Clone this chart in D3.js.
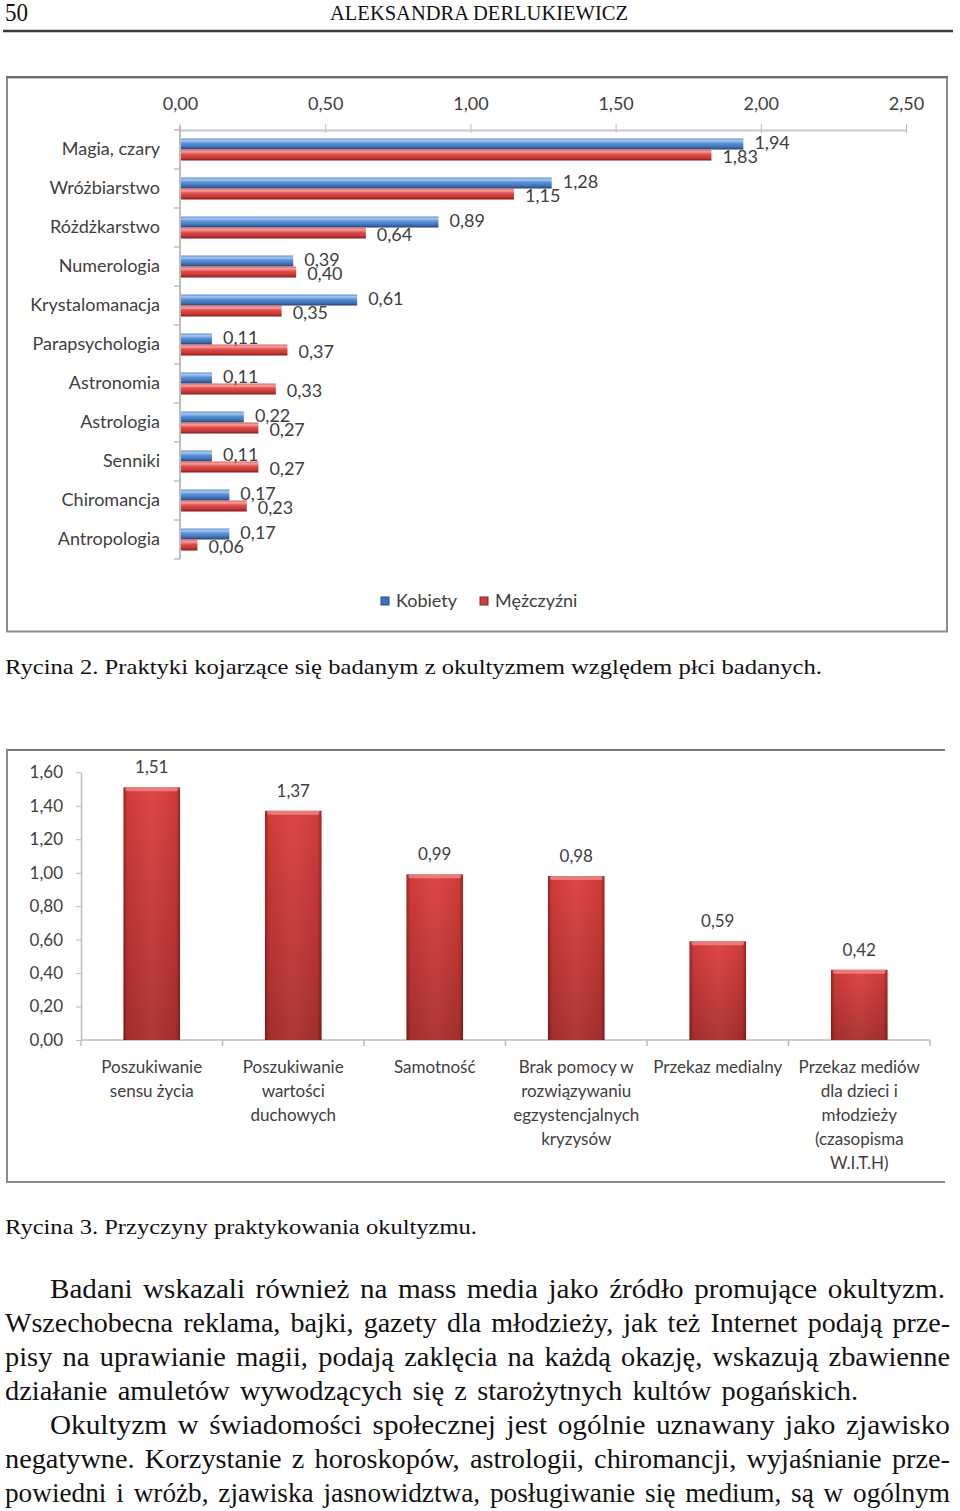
<!DOCTYPE html>
<html><head><meta charset="utf-8">
<script src="https://cdn.jsdelivr.net/npm/d3@7"></script>
<style>
html,body{margin:0;padding:0;background:#fff;}
svg{display:block;}
</style></head>
<body>
<svg id="page" width="960" height="1511"></svg>
<script>
// ---------- DATA ----------
const categories1 = ["Magia, czary","Wróżbiarstwo","Różdżkarstwo","Numerologia","Krystalomanacja","Parapsychologia","Astronomia","Astrologia","Senniki","Chiromancja","Antropologia"];
const kobiety   = [1.94,1.28,0.89,0.39,0.61,0.11,0.11,0.22,0.11,0.17,0.17];
const mezczyzni = [1.83,1.15,0.64,0.40,0.35,0.37,0.33,0.27,0.27,0.23,0.06];
const seriesNames1 = ["Kobiety","Mężczyźni"];
const xTicks1 = [0,0.5,1,1.5,2,2.5];

const categories2 = [
  ["Poszukiwanie","sensu życia"],
  ["Poszukiwanie","wartości","duchowych"],
  ["Samotność"],
  ["Brak pomocy w","rozwiązywaniu","egzystencjalnych","kryzysów"],
  ["Przekaz medialny"],
  ["Przekaz mediów","dla dzieci i","młodzieży","(czasopisma","W.I.T.H)"]
];
const values2 = [1.51,1.37,0.99,0.98,0.59,0.42];
const yTicks2 = [0,0.2,0.4,0.6,0.8,1.0,1.2,1.4,1.6];

const headerPage = "50";
const headerAuthor = "ALEKSANDRA DERLUKIEWICZ";
const caption1 = "Rycina 2. Praktyki kojarzące się badanym z okultyzmem względem płci badanych.";
const caption2 = "Rycina 3. Przyczyny praktykowania okultyzmu.";
const bodyLines = [
  "Badani wskazali również na mass media jako źródło promujące okultyzm.",
  "Wszechobecna reklama, bajki, gazety dla młodzieży, jak też Internet podają prze-",
  "pisy na uprawianie magii, podają zaklęcia na każdą okazję, wskazują zbawienne",
  "działanie amuletów wywodzących się z starożytnych kultów pogańskich.",
  "Okultyzm w świadomości społecznej jest ogólnie uznawany jako zjawisko",
  "negatywne. Korzystanie z horoskopów, astrologii, chiromancji, wyjaśnianie prze-",
  "powiedni i wróżb, zjawiska jasnowidztwa, posługiwanie się medium, są w ogólnym"
];

// ---------- HELPERS ----------
const fmt = d => d.toFixed(2).replace(".", ",");
const svg = d3.select("#page");
const serif = "Liberation Serif";
const sans = "Lato";
const defs = svg.append("defs");

function vGrad(id, stops){
  const g = defs.append("linearGradient").attr("id", id).attr("x1",0).attr("y1",0).attr("x2",0).attr("y2",1);
  stops.forEach(s => g.append("stop").attr("offset", s[0]).attr("stop-color", s[1]).attr("stop-opacity", s[2] === undefined ? 1 : s[2]));
}
function hGrad(id, stops){
  const g = defs.append("linearGradient").attr("id", id).attr("x1",0).attr("y1",0).attr("x2",1).attr("y2",0);
  stops.forEach(s => g.append("stop").attr("offset", s[0]).attr("stop-color", s[1]).attr("stop-opacity", s[2] === undefined ? 1 : s[2]));
}
vGrad("gBlue", [[0,"#5d8fd0"],[0.2,"#a6c8f2"],[0.45,"#5b8fd4"],[0.8,"#3c6db0"],[1,"#1f3f70"]]);
vGrad("gRed",  [[0,"#d9625f"],[0.2,"#f4a09e"],[0.45,"#dc4f4c"],[0.8,"#c23431"],[1,"#7d1a18"]]);
hGrad("gRed2", [[0,"#9c2422"],[0.07,"#cf3b39"],[0.5,"#dd4846"],[0.93,"#cf3b39"],[1,"#9c2422"]]);
vGrad("gShade2", [[0,"#000",0],[1,"#000",0.22]]);

// ---------- HEADER ----------
svg.append("text").attr("x",5).attr("y",21).attr("font-family",serif).attr("font-size",25).attr("fill","#111")
  .attr("textLength",23).attr("lengthAdjust","spacingAndGlyphs").text(headerPage);
svg.append("text").attr("x",330).attr("y",20).attr("font-family",serif).attr("font-size",21).attr("fill","#111")
  .attr("textLength",298).attr("lengthAdjust","spacingAndGlyphs").text(headerAuthor);
svg.append("line").attr("x1",3).attr("x2",953).attr("y1",31).attr("y2",31).attr("stroke","#3a3a3a").attr("stroke-width",2.5);

// ---------- CHART 1 ----------
const c1 = svg.append("g");
c1.append("rect").attr("x",7).attr("y",77.5).attr("width",940).attr("height",554)
  .attr("fill","#fff").attr("stroke","#8c8c8c").attr("stroke-width",2);
c1.append("line").attr("x1",6).attr("x2",948).attr("y1",77).attr("y2",77).attr("stroke","#6e6e6e").attr("stroke-width",2);

const x1 = d3.scaleLinear().domain([0,2.5]).range([180,906]);
const y1 = d3.scaleBand().domain(categories1).range([130,559]);
const ySub = d3.scaleBand().domain(seriesNames1).range([0,y1.bandwidth()]).paddingInner(0).paddingOuter(0.773);

const axTop = c1.append("g").attr("transform","translate(0,130)")
  .call(d3.axisTop(x1).tickValues(xTicks1).tickFormat(fmt).tickSize(6).tickSizeOuter(0).tickPadding(14));
axTop.select(".domain").attr("stroke","#c8c8c8").attr("stroke-width",2);
axTop.selectAll(".tick line").attr("stroke","#bdbdbd").attr("y2",-6).attr("y1",3);
axTop.selectAll(".tick text").attr("font-family",sans).attr("font-size",18).attr("fill","#404040");

const axLeft = c1.append("g").attr("transform","translate(180,0)")
  .call(d3.axisLeft(y1).tickSize(0).tickPadding(20));
axLeft.select(".domain").remove();
axLeft.selectAll(".tick text").attr("font-family",sans).attr("font-size",18).attr("fill","#404040");
c1.append("line").attr("x1",180).attr("x2",180).attr("y1",126).attr("y2",559).attr("stroke","#bdbdbd").attr("stroke-width",2);
const bounds1 = categories1.map(c => y1(c)).concat([y1.range()[1]]);
c1.selectAll(".bt").data(bounds1).join("line").attr("x1",174).attr("x2",180)
  .attr("y1",d=>d).attr("y2",d=>d).attr("stroke","#bdbdbd").attr("stroke-width",1.5);

const rows1 = categories1.map((c,i)=>({c, vals:[{s:"Kobiety",v:kobiety[i]},{s:"Mężczyźni",v:mezczyzni[i]}]}));
const rowG = c1.selectAll(".row").data(rows1).join("g").attr("transform",d=>`translate(0,${y1(d.c)})`);
rowG.selectAll("rect").data(d=>d.vals).join("rect")
  .attr("x",x1(0)+1).attr("y",d=>ySub(d.s)).attr("height",ySub.bandwidth())
  .attr("width",d=>x1(d.v)-x1(0)-1)
  .attr("fill",d=>d.s==="Kobiety"?"url(#gBlue)":"url(#gRed)");
rowG.selectAll("text").data(d=>d.vals).join("text")
  .attr("x",d=>x1(d.v)+11)
  .attr("y",d=>ySub(d.s)+ySub.bandwidth()/2 + (d.s==="Kobiety"? -1: 2))
  .attr("dy","0.35em").attr("font-family",sans).attr("font-size",18).attr("fill","#404040")
  .text(d=>fmt(d.v));

// legend
const leg = c1.append("g");
const legItems = [{s:"Kobiety",x:381,fill:"#3f73b8",stroke:"#1f4f8f"},{s:"Mężczyźni",x:480,fill:"#c8403d",stroke:"#8f2220"}];
leg.selectAll("rect").data(legItems).join("rect").attr("x",d=>d.x).attr("y",597).attr("width",8).attr("height",8)
  .attr("fill",d=>d.fill).attr("stroke",d=>d.stroke);
leg.selectAll("text").data(legItems).join("text").attr("x",d=>d.x+15).attr("y",601).attr("dy","0.35em")
  .attr("font-family",sans).attr("font-size",18).attr("fill","#404040").text(d=>d.s);

// caption 1
svg.append("text").attr("x",5).attr("y",674).attr("font-family",serif).attr("font-size",22).attr("fill","#111")
  .attr("textLength",817).attr("lengthAdjust","spacingAndGlyphs").text(caption1);

// ---------- CHART 2 ----------
const c2 = svg.append("g");
c2.append("line").attr("x1",6).attr("x2",945).attr("y1",750).attr("y2",750).attr("stroke","#7a7a7a").attr("stroke-width",2);
c2.append("line").attr("x1",7).attr("x2",7).attr("y1",750).attr("y2",1182).attr("stroke","#8c8c8c").attr("stroke-width",2);
c2.append("line").attr("x1",6).attr("x2",945).attr("y1",1182).attr("y2",1182).attr("stroke","#8c8c8c").attr("stroke-width",2);

const keys2 = categories2.map(d=>d.join(" "));
const x2 = d3.scaleBand().domain(keys2).range([81,930]).paddingInner(0.6).paddingOuter(0.3);
const y2 = d3.scaleLinear().domain([0,1.6]).range([1040,772.3]);

const axL2 = c2.append("g").attr("transform","translate(81,0)")
  .call(d3.axisLeft(y2).tickValues(yTicks2).tickFormat(fmt).tickSize(5).tickSizeOuter(0).tickPadding(13));
axL2.select(".domain").attr("stroke","#bdbdbd").attr("stroke-width",1.5);
axL2.selectAll(".tick line").attr("stroke","#bdbdbd");
axL2.selectAll(".tick text").attr("font-family",sans).attr("font-size",17).attr("fill","#404040");

c2.append("line").attr("x1",81).attr("x2",930).attr("y1",y2(0)).attr("y2",y2(0)).attr("stroke","#bdbdbd").attr("stroke-width",1.5);
const tickXs2 = d3.range(keys2.length+1).map(i=>x2.range()[0] + i*x2.step());
c2.selectAll(".bt2").data(tickXs2).join("line").attr("x1",d=>d).attr("x2",d=>d)
  .attr("y1",y2(0)).attr("y2",y2(0)+6).attr("stroke","#bdbdbd").attr("stroke-width",1.5);

const bars2 = keys2.map((k,i)=>({k, v:values2[i], lines:categories2[i]}));
const bg = c2.selectAll(".bar2").data(bars2).join("g");
bg.append("rect").attr("x",d=>x2(d.k)).attr("y",d=>y2(d.v)).attr("width",x2.bandwidth())
  .attr("height",d=>y2(0)-y2(d.v)).attr("fill","url(#gRed2)");
bg.append("rect").attr("x",d=>x2(d.k)).attr("y",d=>y2(d.v)).attr("width",x2.bandwidth())
  .attr("height",d=>y2(0)-y2(d.v)).attr("fill","url(#gShade2)");
bg.append("rect").attr("x",d=>x2(d.k)+2).attr("y",d=>y2(d.v)).attr("width",x2.bandwidth()-4)
  .attr("height",4).attr("rx",2).attr("fill","#ee8a88").attr("opacity",0.8);
bg.append("text").attr("x",d=>x2(d.k)+x2.bandwidth()/2).attr("y",d=>y2(d.v)-20).attr("dy","0.35em")
  .attr("text-anchor","middle").attr("font-family",sans).attr("font-size",17).attr("fill","#404040").text(d=>fmt(d.v));
bg.each(function(d){
  const g = d3.select(this);
  d.lines.forEach((ln,j)=>{
    g.append("text").attr("x",x2(d.k)+x2.bandwidth()/2).attr("y",1067+j*24).attr("dy","0.35em")
      .attr("text-anchor","middle").attr("font-family",sans).attr("font-size",17).attr("fill","#404040").text(ln);
  });
});

// caption 2
svg.append("text").attr("x",5).attr("y",1234).attr("font-family",serif).attr("font-size",22).attr("fill","#111")
  .attr("textLength",472).attr("lengthAdjust","spacingAndGlyphs").text(caption2);

// ---------- BODY TEXT ----------
const bodyX = [50,5,5,5,50,5,5];
const bodyW = [895,945,945,853,900,945,945];
const bodyY = [1298,1332,1366,1400,1434,1468,1502];
svg.selectAll(".body").data(bodyLines).join("text")
  .attr("x",(d,i)=>bodyX[i]).attr("y",(d,i)=>bodyY[i])
  .attr("font-family",serif).attr("font-size",27).attr("fill","#111")
  .attr("word-spacing",3)
  .attr("textLength",(d,i)=>bodyW[i]).attr("lengthAdjust","spacingAndGlyphs")
  .text(d=>d);
</script>
</body></html>
